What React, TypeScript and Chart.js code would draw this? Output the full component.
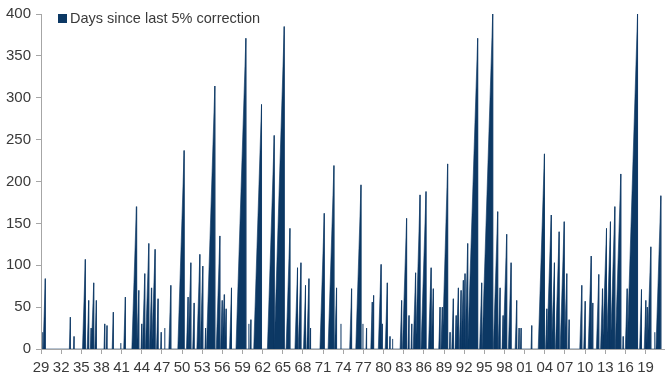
import React, { useEffect, useRef } from "react";
import { Chart, registerables } from "chart.js";

Chart.register(...registerables);

const seriesLabel = "Days since last 5% correction";

// Year (decimal) at which each run ended, and its length in trading days at that point
const peakYears = [
  1929.25, 1929.64, 1933.37, 1933.92, 1935.6, 1936.1, 1936.45, 1936.85, 1937.24, 1938.49, 1938.83,
  1939.77, 1940.88, 1941.56, 1943.2, 1943.56, 1944.0, 1944.45, 1945.05, 1945.44, 1945.99, 1946.43,
  1946.9, 1947.43, 1948.33, 1950.31, 1950.9, 1951.31, 1951.8, 1952.65, 1953.09, 1953.5, 1954.88, 1955.63,
  1955.97, 1956.27, 1956.57, 1957.36, 1959.5, 1959.95, 1960.25, 1961.83, 1963.72, 1965.21,
  1966.06, 1967.19, 1967.7, 1968.38, 1968.89, 1969.13, 1971.17, 1972.61, 1973.0, 1973.66,
  1975.24, 1976.64, 1976.93, 1977.47, 1978.32, 1978.52, 1979.62, 1979.81, 1980.56, 1980.96,
  1981.35, 1982.69, 1983.43, 1983.79, 1984.2, 1984.77, 1985.43, 1986.32, 1987.07, 1987.41, 1988.41,
  1988.75, 1989.54, 1989.9, 1990.39, 1990.8, 1991.14, 1991.54, 1991.88, 1992.13, 1992.52, 1994.01,
  1994.61, 1996.25, 1996.99, 1997.35, 1997.8, 1998.33, 1998.99, 1999.82, 2000.18, 2000.48, 2002.06,
  2003.95, 2004.3, 2004.95, 2005.44, 2006.14, 2006.89, 2007.28, 2007.63, 2009.51, 2010.02,
  2010.91, 2011.15, 2012.04, 2012.59, 2013.19, 2013.78, 2014.43, 2015.32, 2015.68, 2016.27,
  2017.81, 2018.4, 2019.04, 2019.25, 2019.79, 2020.38, 2021.28,
];
const peakDays = [
  20, 84, 38, 15, 107, 58, 25, 79, 58, 30, 28,
  44, 7, 62, 170, 70, 30, 90, 126, 73, 119, 60,
  20, 25, 76, 237, 62, 103, 55, 113, 99, 25, 314, 135,
  58, 65, 48, 73, 371, 30, 35, 292, 255, 385,
  144, 97, 103, 76, 84, 25, 162, 219, 73, 30,
  72, 196, 30, 25, 56, 64, 101, 30, 79, 15,
  12, 58, 156, 40, 30, 91, 184, 188, 97, 72, 50,
  50, 221, 20, 60, 40, 73, 70, 82, 90, 126, 371,
  79, 400, 164, 73, 40, 137, 103, 58, 25, 25, 28,
  233, 48, 160, 103, 140, 152, 90, 35, 76, 57,
  111, 55, 89, 72, 144, 152, 170, 209, 15, 72,
  400, 71, 58, 50, 122, 20, 183,
];

const tradingDaysPerYear = 252;
const xTickYears = [
  1929, 1932, 1935, 1938, 1941, 1944, 1947, 1950, 1953, 1956, 1959, 1962, 1965, 1968, 1971,
  1974, 1977, 1980, 1983, 1986, 1989, 1992, 1995, 1998, 2001, 2004, 2007, 2010, 2013, 2016, 2019,
];
const yTicks = [0, 50, 100, 150, 200, 250, 300, 350, 400];
const xMin = 1929;
const xMax = 2021.75;

const NAVY = "#0c3864";
const AXIS = "#a6a6a6";
const TEXT = "#3a3a3a";
const FONT = "'Liberation Sans', Arial, sans-serif";

function buildPoints() {
  const pts: { x: number; y: number }[] = [];
  let prevEnd = xMin;
  for (let i = 0; i < peakYears.length; i++) {
    const end = peakYears[i];
    const h = peakDays[i];
    const start = Math.max(end - h / tradingDaysPerYear, prevEnd, xMin);
    pts.push({ x: start, y: 0 });
    pts.push({ x: end, y: h });
    pts.push({ x: end, y: 0 });
    prevEnd = end;
  }
  return pts;
}

const legendPlugin = {
  id: "insideLegend",
  afterDraw(chart: any) {
    const ctx = chart.ctx;
    ctx.save();
    ctx.fillStyle = NAVY;
    ctx.fillRect(58, 14, 9, 9);
    ctx.fillStyle = TEXT;
    ctx.font = `14.5px ${FONT}`;
    ctx.textBaseline = "middle";
    ctx.textAlign = "left";
    ctx.fillText(seriesLabel, 70, 19);
    ctx.restore();
  },
};

export default function App() {
  const ref = useRef<HTMLCanvasElement | null>(null);
  useEffect(() => {
    if (!ref.current) return;
    const chart = new Chart(ref.current, {
      type: "line",
      data: {
        datasets: [
          {
            label: seriesLabel,
            data: buildPoints(),
            borderColor: NAVY,
            borderWidth: 0.6,
            backgroundColor: NAVY,
            fill: "origin",
            pointRadius: 0,
            tension: 0,
          },
        ],
      },
      options: {
        responsive: false,
        animation: false,
        layout: { padding: { top: 10, right: 3, left: 0, bottom: 0 } },
        plugins: { legend: { display: false }, tooltip: { enabled: false } },
        scales: {
          x: {
            type: "linear",
            min: xMin,
            max: xMax,
            afterBuildTicks: (scale: any) => {
              scale.ticks = xTickYears.map((v) => ({ value: v }));
            },
            afterFit: (scale: any) => {
              scale.height = 29;
            },
            grid: { drawOnChartArea: false, drawTicks: true, tickLength: 5, color: AXIS },
            border: { display: true, color: AXIS },
            ticks: {
              autoSkip: false,
              maxRotation: 0,
              minRotation: 0,
              padding: 5,
              color: TEXT,
              font: { family: FONT, size: 15 },
              callback: (v: any) => String(Math.round(v) % 100).padStart(2, "0"),
            },
          },
          y: {
            min: 0,
            max: 400,
            afterBuildTicks: (scale: any) => {
              scale.ticks = yTicks.map((v) => ({ value: v }));
            },
            afterFit: (scale: any) => {
              scale.width = 41;
            },
            grid: { drawOnChartArea: false, drawTicks: true, tickLength: 5, color: AXIS },
            border: { display: true, color: AXIS },
            ticks: {
              padding: 5,
              color: TEXT,
              font: { family: FONT, size: 15 },
            },
          },
        },
      },
      plugins: [legendPlugin],
    });
    return () => chart.destroy();
  }, []);
  return (
    <div style={{ position: "absolute", left: 0, top: 0, width: 667, height: 378, background: "#fff" }}>
      <canvas ref={ref} width={667} height={378} />
    </div>
  );
}
